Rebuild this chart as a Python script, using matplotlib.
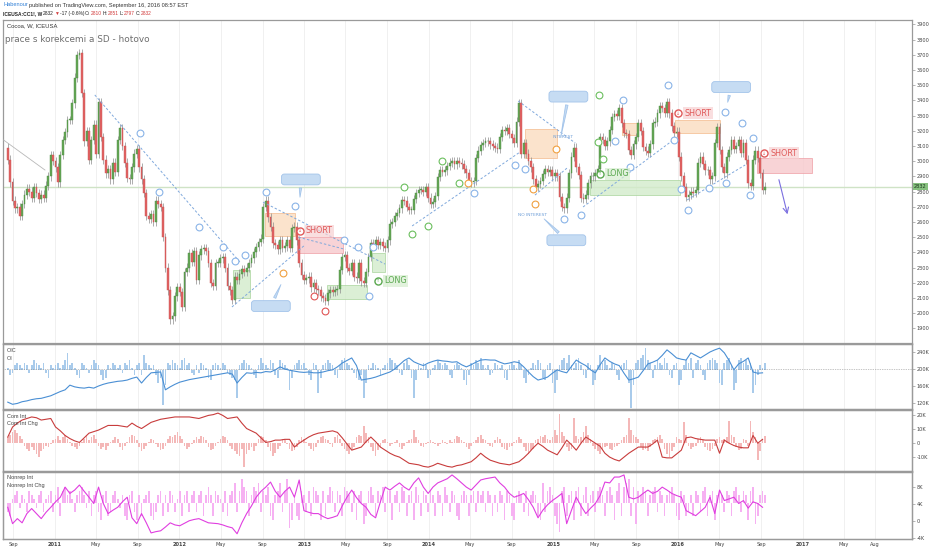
import matplotlib
matplotlib.use("Agg")
import matplotlib.pyplot as plt
import matplotlib.dates as mdates
from matplotlib.patches import Rectangle
import numpy as np
import pandas as pd

# weekly closes, ICEUSA:CC1!, last bar = week of 2016-09-12
close = [
    3010, 2860, 2740, 2690, 2700, 2640, 2720, 2780, 2820, 2800, 2760, 2830, 2790, 2750, 2780, 2760, 2840, 2900, 3040, 3000,
    2960, 2860, 3040, 3140, 3190, 3270, 3270, 3380, 3550, 3700, 3710, 3450, 3130, 3200, 3010, 3140, 3240, 3050, 3390, 3160,
    3010, 2920, 2950, 2880, 2990, 2930, 3140, 3220, 3100, 2990, 2890, 2880, 2960, 3050, 3080, 2960, 2880, 2790, 2640, 2620,
    2650, 2600, 2740, 2720, 2700, 2500, 2300, 2150, 1960, 1980, 2110, 2170, 2140, 2040, 2270, 2300, 2395, 2340, 2410, 2220,
    2380, 2420, 2430, 2410, 2330, 2200, 2180, 2330, 2330, 2360, 2370, 2300, 2180, 2150, 2090, 2240, 2220, 2260, 2290, 2270,
    2300, 2330, 2360, 2400, 2435, 2470, 2490, 2700, 2740, 2630, 2570, 2460, 2450, 2420, 2480, 2430, 2440, 2480, 2430, 2560,
    2570, 2480, 2330, 2250, 2220, 2230, 2240, 2170, 2200, 2160, 2150, 2110, 2100, 2080, 2130, 2150, 2140, 2150, 2160, 2285,
    2370, 2380, 2300, 2280, 2330, 2240, 2230, 2330, 2210, 2200, 2270, 2370, 2460, 2450, 2480, 2450, 2470, 2440, 2430, 2480,
    2590, 2600, 2640, 2660, 2690, 2745, 2740, 2700, 2680, 2680, 2750, 2790, 2810, 2810, 2800, 2830, 2760, 2720, 2730, 2770,
    2895, 2940, 2930, 2940, 2970, 2990, 3000, 2980, 3000, 2990, 2980, 2950, 2920, 2870, 2860, 2870, 3020, 3070, 3105, 3120,
    3130, 3130, 3110, 3100, 3090, 3080, 3160, 3205, 3200, 3220, 3180, 3150, 3120, 3260, 3380, 3050, 3120, 3050, 3000, 2960,
    2880, 2830, 2850, 2870, 2915, 2950, 2930, 2940, 2900, 2920, 2900, 2765, 2700, 2690, 2760, 2920, 3030, 3090, 2960, 2910,
    2760, 2750, 2780, 2855, 2900, 2900, 2920, 2950, 3160, 3140, 3100, 3130, 3205, 3290, 3310, 3300, 3350, 3250, 3185, 3180,
    3075, 3040, 3110, 3160, 3250, 3200, 3095, 3070, 3055, 3110, 3250, 3260, 3315, 3360, 3350, 3320, 3390, 3315, 3230, 3185,
    3195, 3030, 2900, 2830, 2765, 2780, 2800, 2790, 2810, 2990, 3030, 2980, 2940, 2940, 2880, 2900, 3120, 3225, 3075, 2960,
    2920, 3030, 3075, 3140, 3080, 3100, 3140, 3055, 3120, 3010, 2855, 2840, 3010, 3070, 3020, 2920, 2810, 2832,
]
first_open = 3090
last_bar = "2016-09-12"

# open interest change, K (weekly bars)
oic = [
    1, -2, -1, 2, 3, 2, 1, 3, 2, -1, 2, 4, 3, 2, 1, 3, -1, -3, 2, 1,
    2, 3, 1, 2, 4, 7, 2, 3, 1, -2, -3, 3, 2, 1, -1, 2, 4, 3, 2, -2,
    -4, -3, 2, 1, 3, 2, 1, 2, -1, 3, 2, 4, 1, -2, 2, 3, -2, 6, 3, 2,
    1, 2, -2, -5, -3, -14, -6, 3, 2, 4, 3, 2, 1, 4, 5, 2, 3, -1, -2, 2,
    -1, 3, 2, 1, -3, -4, 2, 3, 2, 1, 3, 2, -1, -2, -3, -4, -11, 2, 3, 4,
    3, 2, 1, -2, -3, 2, 5, 3, 2, 1, 4, 3, -2, -3, 4, 3, 2, 1, -8, -3,
    2, 3, 4, 2, 3, 1, -2, -4, 3, 2, -9, -3, 2, 3, 4, 3, 2, -2, -3, 2,
    4, 5, 3, 2, 1, -1, -3, -4, -2, -11, -5, 2, 1, 3, 2, 1, -2, 1, 2, 3,
    5, 4, 3, 2, -1, -2, 3, 4, 2, -3, -11, -4, 2, 1, 3, 2, -3, -2, 1, 2,
    4, 3, 2, 3, 2, -2, -3, 2, 3, 2, 1, -4, -6, -2, 3, 2, 4, 3, 5, 2,
    1, 2, -2, -1, 3, 2, 1, 2, -3, -4, 2, 3, 2, 1, 4, 2, -3, -5, -2, 1,
    3, 2, 4, 3, -3, -4, 2, 3, -5, -9, -4, 2, 4, 5, 3, 6, 2, 1, 3, 5,
    2, -2, -3, 3, 2, -6, -4, 2, 6, 3, 4, 2, 1, 3, 2, -2, -4, 2, 3, 4,
    -5, -15, -6, 3, 4, 5, 6, 9, 4, 3, -3, 2, 4, 3, 2, 5, 3, -2, -3, 2,
    3, -6, -4, 2, 4, 3, 5, -3, 3, 4, 2, -2, -4, 3, 4, 5, 4, 3, -5, -6,
    3, 4, 5, 2, -8, -5, 4, 5, 3, 4, 2, 3, -9, -6, -2, 2, 1, 3,
]
# open interest, K (every second week)
oi = [
    122, 117, 119, 123, 125, 128, 130, 131, 134, 137,
    142, 147, 151, 162, 158, 156, 155, 157, 155, 160,
    164, 167, 169, 171, 172, 174, 178, 181, 167, 180,
    191, 192, 193, 151, 158, 164, 169, 172, 175, 177,
    179, 181, 183, 185, 187, 189, 191, 188, 167, 180,
    191, 190, 192, 191, 194, 193, 198, 205, 200, 197,
    195, 193, 192, 193, 191, 191, 193, 196, 198, 205,
    214, 220, 226, 208, 174, 176, 178, 181, 185, 189,
    193, 200, 210, 220, 226, 217, 212, 208, 214, 218,
    221, 219, 218, 216, 217, 210, 205, 210, 216, 221,
    222, 221, 221, 216, 212, 214, 217, 215, 205, 193,
    182, 174, 177, 181, 190, 198, 194, 191, 206, 221,
    214, 208, 198, 191, 210, 226, 218, 212, 208, 190,
    174, 177, 181, 196, 212, 216, 221, 232, 245, 236,
    226, 223, 221, 238, 232, 226, 233, 240, 245, 249,
    238, 220, 198, 212, 218, 226, 193, 190, 191,
]

# commercial interest change, K (weekly bars)
com_chg = [
    4, 6, 8, 9, 7, 5, 3, -2, -4, -6, -3, -5, -8, -10, -6, -4, -2, -3, -1, 2,
    3, 5, 2, 4, 6, 3, 1, -2, -3, -4, -2, 1, 3, 5, 2, 4, 6, 3, -2, -4,
    -3, -5, -2, 1, 2, 4, 3, -3, -5, -2, 1, 4, 6, 5, 2, -3, -6, -4, -2, 1,
    3, 2, -1, -3, -5, -4, -2, 3, 5, 4, 6, 8, 5, 3, -2, -4, -3, -1, 2, 4,
    3, 5, 4, 2, -3, -5, -4, -2, 1, 3, 5, 4, 2, -2, -4, -6, -8, -9, -4, -17,
    -8, -5, -3, -6, -2, 3, 5, 4, 2, -3, -6, -9, -7, -4, -2, 3, 2, -1, -4, -6,
    -5, -3, 2, 4, 3, 1, -2, -4, -6, -3, 2, 4, 5, 3, 2, -1, -3, 4, 6, 3,
    -2, -4, -6, -8, -5, -3, 4, 6, 5, 12, 7, 4, -3, -6, -9, -5, -3, 2, 3, 1,
    -2, -1, 1, 2, -3, -4, -2, 1, 2, 3, 9, 4, 2, -2, -3, -1, 1, 2, 1, -1,
    -2, -1, 2, 1, -1, 2, 1, 3, 5, 4, 2, 1, -3, -4, -2, 1, 2, 4, 6, 3,
    2, -1, -2, -3, 2, 4, 3, -3, -4, -5, -3, -2, 1, 2, 4, 3, -3, -6, -8, -5,
    -4, 2, 3, 5, 4, 6, 3, 2, 4, 9, 6, 21, 8, 5, -3, -6, -4, 18, 5, 3,
    4, 8, 12, 6, 3, -2, -4, -6, -8, -5, -3, -2, -4, -5, -3, -2, -1, 2, 4, 6,
    18, 9, 6, 4, 3, -3, -5, -4, -6, -3, 2, 3, 4, 6, 3, -4, -8, -10, -6, -3,
    4, 3, 2, 15, 6, -2, -4, -3, -2, 3, 4, 2, -3, -5, -6, -4, -2, 3, 4, 2,
    3, 4, 16, 6, 4, -3, -5, -4, 3, 2, -2, 16, 8, 4, -12, -6, 3, 5,
]
# commercial interest (net), K (every second week)
com_int = [
    -56, -43, -38, -34, -32, -30, -31, -34, -33, -32,
    -43, -48, -54, -58, -61, -63, -57, -51, -49, -47,
    -44, -41, -41, -41, -42, -43, -38, -42, -45, -41,
    -37, -35, -33, -32, -31, -30, -30, -30, -30, -31,
    -32, -30, -28, -27, -25, -28, -32, -31, -30, -38,
    -45, -48, -51, -57, -63, -62, -60, -60, -59, -59,
    -69, -64, -60, -56, -53, -51, -50, -49, -48, -50,
    -57, -65, -73, -71, -69, -62, -56, -62, -69, -73,
    -77, -80, -82, -86, -90, -91, -92, -94, -95, -93,
    -90, -92, -94, -95, -93, -92, -90, -88, -83, -77,
    -82, -86, -88, -90, -91, -92, -90, -88, -83, -77,
    -70, -64, -68, -73, -76, -79, -70, -60, -66, -73,
    -64, -56, -60, -64, -68, -77, -82, -85, -87, -82,
    -77, -73, -69, -69, -69, -65, -60, -82, -83, -83,
    -78, -73, -57, -56, -58, -59, -60, -60, -60, -77,
    -60, -64, -67, -69, -70, -70, -54, -64, -59,
]

# non-reportable interest change, K (weekly bars)
nonrep_chg = [
    -2, -3, 1, 2, 3, -1, 2, 1, -2, 3, 2, 1, -1, 2, 3, -2, 1, 2, 3, -2,
    2, 4, -3, 3, 4, 2, 3, 1, -2, 2, 3, 4, 2, -1, 3, -3, 2, 3, -2, -4,
    2, 3, -3, -2, 2, 3, 1, -1, 2, -3, -4, 2, 3, -2, -4, 2, -3, 1, 2, 3,
    -3, -4, -2, 2, 3, -3, 2, -2, 3, 2, -2, 1, 3, -3, 2, 3, -2, 2, 3, -2,
    2, 3, -3, 2, 4, 2, -3, 3, 2, 1, -2, 3, -3, 2, 3, 5, -2, 3, 6, 4,
    3, -3, 2, 4, 3, 5, -2, 3, 2, 4, -3, -4, 2, 3, 5, -2, 3, 6, -6, -4,
    2, -3, -4, 3, 2, -2, 3, -3, 4, 3, 2, -4, 3, -3, 2, 4, 3, -2, 3, 2,
    -3, 4, 3, 2, -2, 3, -4, 2, 3, -5, -3, 3, 4, 2, -3, 3, 2, 4, -2, 3,
    3, -4, 2, 3, -2, 4, 3, -3, 2, 3, -4, 4, 2, -3, 3, 2, -2, 3, 2, -3,
    3, 2, -3, 4, 2, -2, 3, 2, -3, -4, 2, 3, 2, -3, 2, 3, -2, 3, 2, 3,
    -2, 3, 2, -3, 2, -2, 3, 2, -4, 3, 2, -3, -4, 2, 3, 2, -2, 3, -3, 2,
    3, 2, -3, -4, 5, -2, 3, 4, 2, -3, -5, -7, 3, 4, -3, 2, 3, -4, 3, 4,
    -3, 2, 4, -3, 2, 3, -2, 3, 4, 2, -3, 3, 4, 2, -4, 3, 5, -3, 4, 5,
    6, -3, 4, -5, 3, 2, 4, 3, -3, 2, 3, 4, -2, 3, 2, -3, 2, 3, 4, 2,
    -3, -4, 3, 2, -3, -2, 2, -3, 3, 2, -2, 3, 4, -3, 2, 3, -4, 2, 3, 2,
    -2, 3, 2, -3, 3, 4, 2, -2, 3, 2, -4, 3, 4, -5, -3, 2, 3, 2,
]
# non-reportable interest, K (every second week)
nonrep_int = [
    3.2, -0.7, 0.5, -0.5, 1.7, 2.9, 1.7, 0.5, 2.0, 3.2,
    4.5, 5.6, 8.0, 6.5, 7.3, 8.5, 7.0, 5.6, 4.1, 8.0,
    4.1, 1.7, 2.5, 3.2, 4.5, 5.6, 0.7, -0.7, 1.7, -0.5,
    -2.9, -2.6, -2.4, -1.5, -0.5, -1.0, -1.2, -0.6, 0.0, 0.3,
    0.5, 0.0, -0.5, -0.6, -0.7, -1.0, -1.4, -1.7, -3.1, -0.5,
    1.7, 3.5, 5.6, 7.0, 8.0, 9.2, 7.0, 5.6, 7.0, 8.0,
    5.6, 9.7, 2.4, 2.0, 1.7, 1.7, 1.0, 0.5, 0.8, 1.2,
    3.5, 5.6, 7.3, 5.5, 4.1, 3.2, 1.5, 0.7, 4.5, 8.0,
    7.3, 8.2, 9.0, 8.0, 7.3, 9.0, 10.2, 8.0, 6.5, 8.0,
    9.0, 9.5, 10.0, 10.9, 10.0, 9.0, 8.0, 7.3, 8.5, 9.7,
    10.0, 10.2, 10.4, 9.0, 8.0, 6.5, 5.6, 6.0, 6.5, 5.0,
    3.2, 0.7, 2.5, 3.8, 4.8, 5.6, 6.5, -0.7, 2.5, 5.6,
    3.5, 1.7, 3.0, 4.1, 6.0, 9.2, 9.0, 10.4, 10.4, 10.9,
    5.6, 5.2, 5.6, 6.5, 7.3, 6.5, 7.0, 8.0, 7.3, 6.5,
    6.0, 5.6, 2.4, 1.8, 1.2, 2.2, 3.2, 5.6, 1.7, 7.3,
    4.8, 5.2, 5.6, 4.1, 4.8, 3.0, 4.5, 4.1, 3.2,
]

price_ticks = list(range(1900, 4000, 100))
month_ticks = ["2010-09-01", "2011-01-01", "2011-05-01", "2011-09-01", "2012-01-01", "2012-05-01",
               "2012-09-01", "2013-01-01", "2013-05-01", "2013-09-01", "2014-01-01", "2014-05-01",
               "2014-09-01", "2015-01-01", "2015-05-01", "2015-09-01", "2016-01-01", "2016-05-01",
               "2016-09-01", "2017-01-01", "2017-05-01", "2017-08-01"]
month_labels = ["Sep", "2011", "May", "Sep", "2012", "May", "Sep", "2013", "May", "Sep", "2014", "May",
                "Sep", "2015", "May", "Sep", "2016", "May", "Sep", "2017", "May", "Aug"]

W, H = 932, 550
D = mdates.datestr2num

dates = pd.date_range(end=last_bar, periods=len(close), freq="W-MON")
t = mdates.date2num(dates)
t2 = t[::2]

closes = np.array(close, dtype=float)
opens = np.r_[first_open, closes[:-1]]
wick = 28
highs = np.maximum(opens, closes) + wick
lows = np.minimum(opens, closes) - wick
up = closes >= opens

GREEN, RED = "#66a857", "#e26464"
GRID = "#eeeeee"
FRAME = "#9a9a9a"

fig = plt.figure(figsize=(W / 100, H / 100), dpi=100)
fig.patch.set_facecolor("white")


def box(top, bottom):
    return [3 / W, 1 - bottom / H, (912 - 3) / W, (bottom - top) / H]


def style_y(a):
    a.yaxis.tick_right()
    a.tick_params(axis="y", length=2, width=0.5, color="#999999", labelsize=3.6,
                  labelcolor="#444444", pad=1.5)
    for s in a.spines.values():
        s.set_color(FRAME)
        s.set_linewidth(0.9)


ax = fig.add_axes(box(20, 343))
ax_oi = fig.add_axes(box(344, 409))
ax_com = fig.add_axes(box(410, 471))
ax_nr = fig.add_axes(box(472, 539))
panels = [ax, ax_oi, ax_com, ax_nr]

xlim = (D("2010-08-02"), D("2017-11-17"))
tick_pos = [D(s) for s in month_ticks]
for a in panels:
    a.set_xlim(*xlim)
    a.set_xticks(tick_pos)
    a.tick_params(axis="x", length=0, labelbottom=False)
    for x in tick_pos:
        a.axvline(x, color=GRID, lw=0.6, zorder=0)

# ---- price panel ----
ax.set_ylim(1804, 3929)
ax.set_yticks(price_ticks)
ax.axhline(2832, color="#cfe3c6", lw=1.0, zorder=1)
ax.vlines(t, lows, highs, color="#8c8c8c", lw=0.5, zorder=2)
ax.bar(t[up], np.maximum(closes[up] - opens[up], 5), bottom=opens[up], width=5.3,
       color=GREEN, edgecolor="#4a8a40", linewidth=0.3, zorder=3)
ax.bar(t[~up], np.maximum(opens[~up] - closes[~up], 5), bottom=closes[~up], width=5.3,
       color=RED, edgecolor="#c94f4f", linewidth=0.3, zorder=3)
ax.annotate("2832", xy=(1, 2832), xycoords=("axes fraction", "data"), xytext=(1.5, 0),
            textcoords="offset points", va="center", ha="left", fontsize=3.6, color="#1f3a1f",
            bbox=dict(boxstyle="square,pad=0.25", fc="#86c07f", ec="none"), annotation_clip=False)

# zones
zones = [
    ("2012-09-08", "2012-12-05", 2510, 2660, "#fbdcc0", "#f3b887"),
    ("2012-12-10", "2013-04-24", 2396, 2501, "#f7c9cc", "#ee9aa2"),
    ("2012-06-06", "2012-07-26", 2100, 2284, "#d3ebcb", "#a6d399"),
    ("2013-03-08", "2013-07-04", 2093, 2185, "#d3ebcb", "#a6d399"),
    ("2013-07-18", "2013-08-26", 2271, 2396, "#d3ebcb", "#a6d399"),
    ("2014-10-10", "2015-01-12", 3021, 3212, "#fbdcc0", "#f3b887"),
    ("2015-07-21", "2015-09-06", 3172, 3251, "#fbdcc0", "#f3b887"),
    ("2015-04-19", "2016-01-08", 2777, 2876, "#d3ebcb", "#a6d399"),
    ("2015-12-24", "2016-05-04", 3185, 3271, "#fbdcc0", "#f3b887"),
    ("2016-08-20", "2017-01-29", 2922, 3021, "#f7c9cc", "#ee9aa2"),
]
for x0, x1, y0, y1, fc, ec in zones:
    ax.add_patch(Rectangle((D(x0), y0), D(x1) - D(x0), y1 - y0, fc=fc, ec=ec,
                           lw=0.6, alpha=0.8, zorder=1.5))

# trend lines
trend = [
    ("2011-04-28", 3436, "2012-06-26", 2337),
    ("2012-06-03", 2041, "2013-01-03", 2449),
    ("2012-09-02", 2731, "2013-08-26", 2323),
    ("2012-12-15", 2500, "2013-05-01", 2420),
    ("2013-11-13", 2574, "2014-09-25", 3060),
    ("2014-09-20", 3396, "2015-03-06", 3120),
    ("2014-11-08", 2777, "2015-02-10", 2955),
    ("2015-03-29", 2699, "2015-12-18", 3139),
    ("2016-01-28", 2745, "2016-07-16", 2975),
]
for xa, ya, xb, yb in trend:
    ax.plot([D(xa), D(xb)], [ya, yb], ls=(0, (2.5, 2)), color="#7fa8dc", lw=0.7, zorder=4)
ax.plot([D("2010-08-04"), D("2010-12-03")], [3139, 2942], color="#b8b8b8", lw=0.6, zorder=4)

# point markers
marks = [
    ("2011-09-07", 3185, "#8ab4e8"), ("2011-11-02", 2797, "#8ab4e8"), ("2012-02-27", 2567, "#8ab4e8"),
    ("2012-05-08", 2435, "#8ab4e8"), ("2012-06-12", 2343, "#8ab4e8"), ("2012-07-11", 2383, "#8ab4e8"),
    ("2012-09-11", 2797, "#8ab4e8"), ("2012-12-05", 2705, "#8ab4e8"), ("2013-04-27", 2481, "#8ab4e8"),
    ("2013-06-07", 2435, "#8ab4e8"), ("2013-07-21", 2435, "#8ab4e8"), ("2013-07-10", 2113, "#8ab4e8"),
    ("2014-05-14", 2791, "#8ab4e8"), ("2014-09-11", 2975, "#8ab4e8"), ("2014-10-10", 2949, "#8ab4e8"),
    ("2015-02-01", 2620, "#8ab4e8"), ("2015-03-23", 2646, "#8ab4e8"), ("2015-07-24", 3403, "#8ab4e8"),
    ("2015-07-01", 3133, "#8ab4e8"), ("2015-08-14", 2962, "#8ab4e8"), ("2015-12-03", 3501, "#8ab4e8"),
    ("2015-12-21", 3139, "#8ab4e8"), ("2016-01-10", 2817, "#8ab4e8"), ("2016-01-31", 2679, "#8ab4e8"),
    ("2016-04-02", 2824, "#8ab4e8"), ("2016-05-18", 3324, "#8ab4e8"), ("2016-05-21", 2856, "#8ab4e8"),
    ("2016-07-07", 3251, "#8ab4e8"), ("2016-08-09", 3153, "#8ab4e8"), ("2016-07-31", 2777, "#8ab4e8"),
    ("2013-10-20", 2830, "#6cbf5f"), ("2014-02-09", 3001, "#6cbf5f"), ("2014-03-31", 2856, "#6cbf5f"),
    ("2013-11-13", 2521, "#6cbf5f"), ("2013-12-30", 2574, "#6cbf5f"), ("2015-05-15", 3436, "#6cbf5f"),
    ("2015-05-12", 3126, "#6cbf5f"), ("2015-05-27", 3014, "#6cbf5f"),
    ("2012-10-31", 2264, "#f0a040"), ("2014-04-26", 2856, "#f0a040"), ("2014-11-03", 2817, "#f0a040"),
    ("2014-11-08", 2718, "#f0a040"), ("2015-01-09", 3080, "#f0a040"),
    ("2013-01-29", 2113, "#e05555"), ("2013-03-03", 2014, "#e05555"),
]
for d, p, c in marks:
    ax.scatter(D(d), p, s=24, facecolor="white", edgecolor=c, linewidth=0.8, zorder=6)

# trade labels
signals = [
    ("2012-12-19", 2541, "SHORT", "#e05a5a", "#f7d0d2"),
    ("2013-08-05", 2212, "LONG", "#5aa84f", "#d6edcf"),
    ("2015-05-18", 2916, "LONG", "#5aa84f", "#d6edcf"),
    ("2016-01-02", 3317, "SHORT", "#e05a5a", "#f7d0d2"),
    ("2016-09-10", 3054, "SHORT", "#e05a5a", "#f7d0d2"),
]
for d, p, label, c, bg in signals:
    ax.scatter(D(d), p, s=26, facecolor="white", edgecolor=c, linewidth=1.0, zorder=7)
    ax.text(D(d), p, "↓" if label == "SHORT" else "↑", fontsize=3.5, color=c,
            ha="center", va="center", zorder=8)
    ax.text(D(d) + 18, p, label, fontsize=5.8, color=c, ha="left", va="center", zorder=8,
            bbox=dict(boxstyle="square,pad=0.15", fc=bg, ec="none", alpha=0.7))

# callouts
callouts = [
    ("2012-12-22", 2880, "2012-12-19", 2745),
    ("2012-09-25", 2047, "2012-10-28", 2205),
    ("2015-02-14", 3425, "2015-01-21", 3139),
    ("2015-02-08", 2480, "2014-11-29", 2633),
    ("2016-06-05", 3488, "2016-05-24", 3370),
]
for d, p, dx, px in callouts:
    ax.annotate(" " * 22, xy=(D(dx), px), xytext=(D(d), p), fontsize=3.5, ha="center", va="center",
                bbox=dict(boxstyle="round,pad=0.6", fc="#c6dcf3", ec="#a3c4ea", lw=0.6),
                arrowprops=dict(arrowstyle="wedge,tail_width=0.5", fc="#c6dcf3", ec="#a3c4ea", lw=0.6),
                zorder=7)
ax.text(D("2015-01-29"), 3159, "INTEREST", fontsize=3.2, color="#6f9fd8", ha="center", va="center")
ax.text(D("2014-11-02"), 2646, "NO INTEREST", fontsize=3.2, color="#6f9fd8", ha="center", va="center")
ax.annotate("", xy=(D("2016-11-19"), 2633), xytext=(D("2016-10-21"), 2896),
            arrowprops=dict(arrowstyle="->", color="#7b6fe0", lw=0.8))

# ---- OI panel ----
ax_oi.set_ylim(-15.6, 10.4)
ax_oi.bar(t, oic, width=5, color="#a9cbeb", zorder=2)
ax_oi2 = ax_oi.twinx()
ax_oi2.set_xlim(*xlim)
ax_oi2.set_ylim(105.9, 258.8)
ax_oi2.set_yticks([120, 160, 200, 240])
ax_oi2.set_yticklabels(["120K", "160K", "200K", "240K"])
ax_oi2.axhline(200, color="#8a8a8a", lw=0.5, ls=(0, (1, 1.5)))
ax_oi2.plot(t2[:len(oi)], oi[:len(t2)], color="#4a8fd4", lw=0.8)

# ---- commercial panel ----
ax_com.set_ylim(-20, 23.6)
ax_com.bar(t, com_chg, width=5, color="#f4b8b8", zorder=2)
ax_com2 = ax_com.twinx()
ax_com2.set_xlim(*xlim)
ax_com2.set_ylim(-100, -21)
ax_com2.plot(t2[:len(com_int)], com_int[:len(t2)], color="#c83c3c", lw=0.8)

# ---- non-reportable panel ----
ax_nr.set_ylim(-8.75, 7.75)
ax_nr.bar(t, nonrep_chg, width=5, color="#f6b1f2", zorder=2)
ax_nr2 = ax_nr.twinx()
ax_nr2.set_xlim(*xlim)
ax_nr2.set_ylim(-4.35, 11.6)
ax_nr2.set_yticks([-4, 0, 4, 8])
ax_nr2.set_yticklabels(["-4K", "0", "4K", "8K"])
ax_nr2.plot(t2[:len(nonrep_int)], nonrep_int[:len(t2)], color="#e03ee0", lw=0.8)

# tick placement after the twins are made (twinx moves the host ticks left)
for a in [ax, ax_oi, ax_com, ax_nr, ax_oi2, ax_com2, ax_nr2]:
    style_y(a)
ax_oi.set_yticks([])
ax_nr.set_yticks([])
ax_com2.set_yticks([])
ax_com.set_yticks([-10, 0, 10, 20])
ax_com.set_yticklabels(["-10K", "0", "10K", "20K"])

ax_nr.tick_params(axis="x", labelbottom=True, labelsize=3.6, labelcolor="#444444", pad=2)
ax_nr.set_xticklabels(month_labels)
for lab in ax_nr.get_xticklabels():
    if lab.get_text().isdigit():
        lab.set_fontweight("bold")

# ---- texts ----
renderer = fig.canvas.get_renderer()


def ft(x, y, s, **kw):
    return fig.text(x / W, 1 - y / H, s, va="center", ha="left", **kw)


def flow(x, y, parts, size, gap=1.0):
    for s, color, weight in parts:
        tx = ft(x, y, s, color=color, fontsize=size, fontweight=weight,
                family=["Liberation Sans", "DejaVu Sans"])
        x += tx.get_window_extent(renderer).width + gap


flow(3, 5, [("Habenour", "#2f7fd6", "normal"),
            ("published on TradingView.com, September 16, 2016 08:57 EST", "#333333", "normal")],
     size=4.1)
flow(3, 13.5, [("ICEUSA:CC1!, W", "#222222", "bold"), ("2832", "#222222", "normal"),
               ("▼", "#d23c3c", "normal"), ("-17 (-0.6%)", "#222222", "normal"),
               ("O:", "#222222", "normal"), ("2810", "#d23c3c", "normal"),
               ("H:", "#222222", "normal"), ("2851", "#d23c3c", "normal"),
               ("L:", "#222222", "normal"), ("2797", "#d23c3c", "normal"),
               ("C:", "#222222", "normal"), ("2832", "#d23c3c", "normal")],
     size=3.5, gap=0.6)

ft(7, 26, "Cocoa, W, ICEUSA", color="#333333", fontsize=4.2, family="Liberation Sans")
ft(5, 39, "prace s korekcemi a SD - hotovo", color="#6e6e6e", fontsize=6.4)

for y, s in [(351, "OIC"), (359, "OI"), (416, "Com Int"), (424, "Com Int Chg"),
             (478, "Nonrep Int"), (486, "Nonrep Int Chg")]:
    ft(7, y, s, color="#444444", fontsize=4.0, family="Liberation Sans")

fig.savefig("out.png", dpi=100, facecolor="white")
